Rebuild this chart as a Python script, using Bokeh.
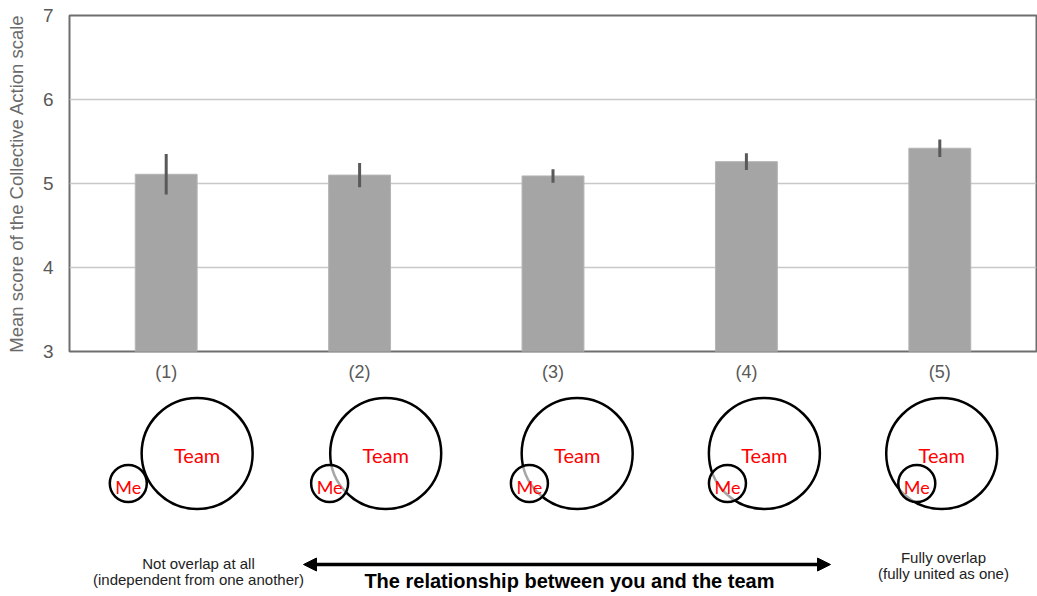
from bokeh.plotting import figure
from bokeh.layouts import column
from bokeh.models import Range1d, FixedTicker, Arrow, NormalHead
from bokeh.core.properties import value
from bokeh.embed import file_html
from bokeh.resources import INLINE

# ---- data -------------------------------------------------------------
categories = ["(1)", "(2)", "(3)", "(4)", "(5)"]
means = [5.11, 5.10, 5.09, 5.26, 5.42]
errors = [0.24, 0.145, 0.08, 0.10, 0.105]
y_ticks = [3, 4, 5, 6, 7]

# ---- diagram layout (category units, 1 = one category slot) -----------
team_dx = [0.16, 0.135, 0.125, 0.093, 0.01]
me_dx = [-0.196, -0.155, -0.122, -0.098, -0.119]

FONT = "Liberation Sans"
W = 1037
TOP_H = 385
BOT_H = 596 - TOP_H

# ---- bar chart ----------------------------------------------------------
p = figure(x_range=categories, y_range=Range1d(3, 7), width=W, height=TOP_H,
           output_backend="svg", toolbar_location=None,
           min_border_left=69, min_border_right=1,
           min_border_top=15, min_border_bottom=34)

p.outline_line_color = "#6e6e6e"
p.outline_line_width = 2

p.xgrid.visible = False
p.ygrid.grid_line_color = "#c8c8c8"
p.ygrid.grid_line_width = 1.5
p.yaxis.ticker = FixedTicker(ticks=y_ticks)

for ax in (p.xaxis, p.yaxis):
    ax.axis_line_color = None
    ax.major_tick_line_color = None
    ax.minor_tick_line_color = None
    ax.major_tick_out = 0
    ax.major_tick_in = 0
    ax.minor_tick_out = 0
    ax.minor_tick_in = 0
    ax.major_label_text_color = "#595959"
    ax.major_label_text_font = FONT

p.yaxis.major_label_text_font_size = "19px"
p.yaxis.major_label_standoff = 16
p.yaxis.axis_label = "Mean score of the Collective Action scale"
p.yaxis.axis_label_text_font = FONT
p.yaxis.axis_label_text_font_size = "18.5px"
p.yaxis.axis_label_text_font_style = "normal"
p.yaxis.axis_label_text_color = "#6a6a6a"
p.yaxis.axis_label_standoff = 13

p.xaxis.major_label_text_font_size = "18px"
p.xaxis.major_label_standoff = 10

p.vbar(x=categories, top=means, bottom=3, width=0.32,
       fill_color="#a5a5a5", line_color="#b4b4b4", line_width=1)

lower = [m - e for m, e in zip(means, errors)]
upper = [m + e for m, e in zip(means, errors)]
p.segment(x0=categories, y0=lower, x1=categories, y1=upper,
          line_width=3, line_color="#595959")

# ---- overlap diagrams and caption ---------------------------------------
q = figure(x_range=Range1d(0, len(categories)), y_range=Range1d(0, BOT_H),
           width=W, height=BOT_H, output_backend="svg", toolbar_location=None,
           x_axis_type=None, y_axis_type=None,
           min_border_left=69, min_border_right=1,
           min_border_top=0, min_border_bottom=0)
q.grid.visible = False
q.outline_line_color = None

centers = [i + 0.5 for i in range(len(categories))]
team_x = [c + d for c, d in zip(centers, team_dx)]
me_x = [c + d for c, d in zip(centers, me_dx)]
team_y = [143] * len(categories)
me_y = [113] * len(categories)

q.scatter(team_x, team_y, size=111, marker="circle", fill_color=None,
          line_color="black", line_width=2.5)
q.scatter(me_x, me_y, size=37, marker="circle", fill_color="white",
          fill_alpha=0.65, line_color="black", line_width=2.5)

q.text(x=team_x, y=[142] * len(categories), text=["Team"] * len(categories),
       text_font=value("Lato"), text_font_size="20px", text_color="#ff0000",
       text_align="center", text_baseline="middle")
q.text(x=me_x, y=[110] * len(categories), text=["Me"] * len(categories),
       text_font=value("Lato"), text_font_size="18px", text_color="#ff0000",
       text_align="center", text_baseline="middle")

head = dict(size=13, fill_color="black", line_color="black")
q.add_layout(Arrow(start=NormalHead(**head), end=NormalHead(**head),
                   x_start=1.21, y_start=32, x_end=3.935, y_end=32,
                   line_width=3.5, line_color="black"))

q.text(x=[2.585], y=[16], text=["The relationship between you and the team"],
       text_font=value(FONT), text_font_size="20px", text_font_style="bold",
       text_color="black", text_align="center", text_baseline="middle")

q.text(x=[0.667, 0.667], y=[33, 17],
       text=["Not overlap at all", "(independent from one another)"],
       text_font=value(FONT), text_font_size="15px", text_color="#222222",
       text_align="center", text_baseline="middle")
q.text(x=[4.519, 4.519], y=[39, 23],
       text=["Fully overlap", "(fully united as one)"],
       text_font=value(FONT), text_font_size="15px", text_color="#222222",
       text_align="center", text_baseline="middle")

layout = column(p, q, spacing=0)
open("out.html", "w").write(file_html(layout, INLINE))
